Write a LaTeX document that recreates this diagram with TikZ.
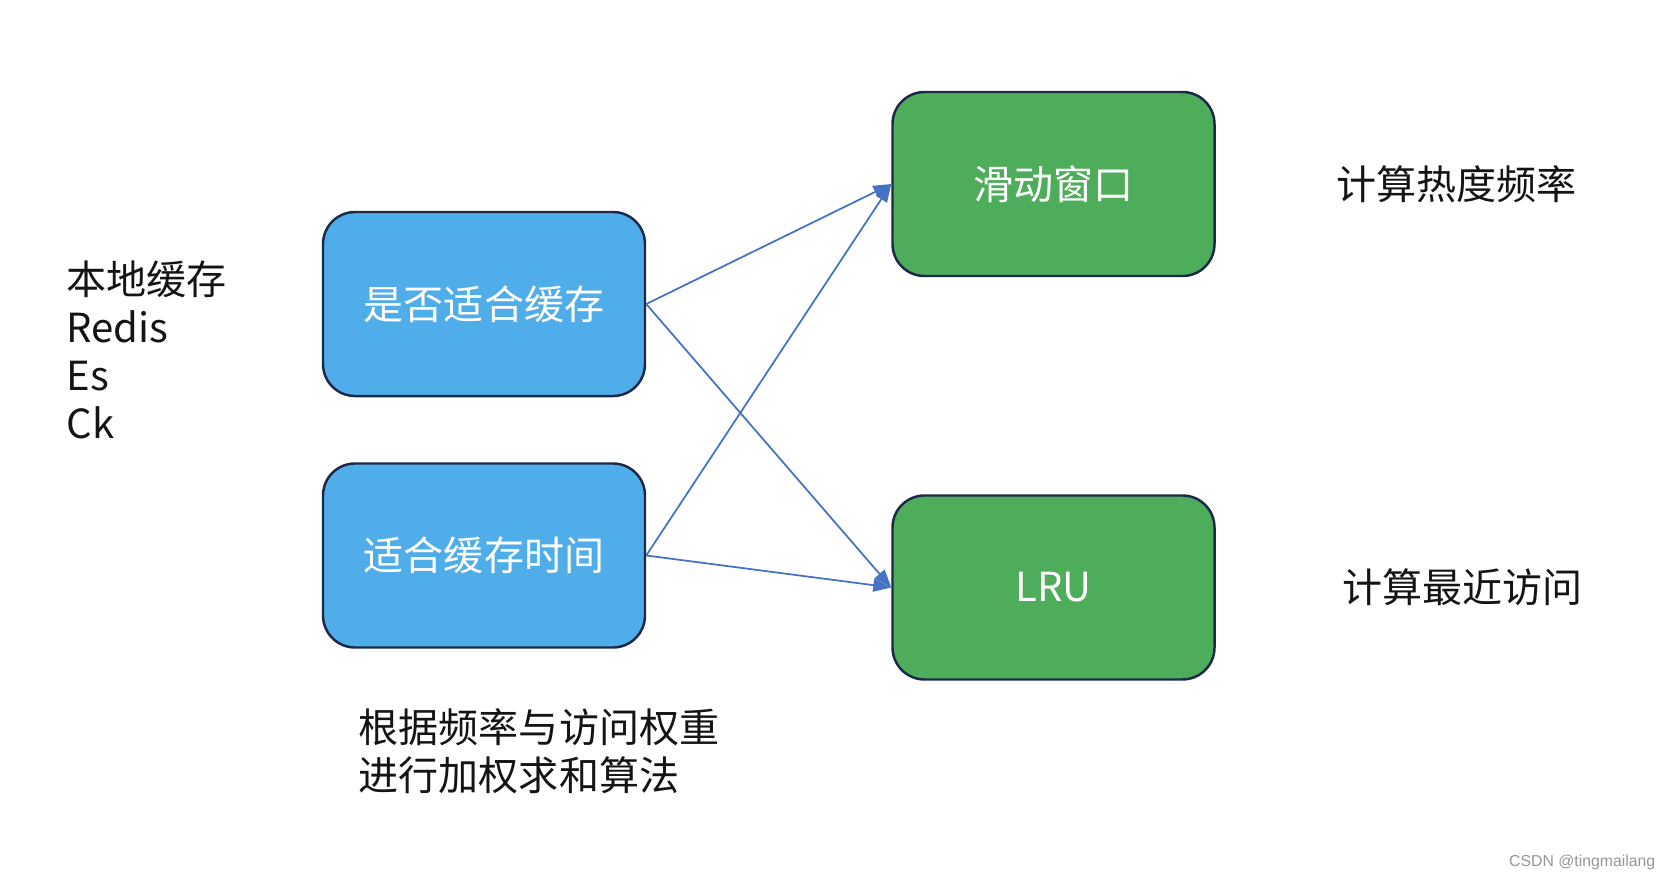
\documentclass[tikz,border=0pt]{standalone}
\usepackage{xcolor}
\usepackage{fontspec}
\setmainfont{Noto Sans CJK SC}
\newfontfamily\markfont{Liberation Sans}
\usepackage{tikz}
\usetikzlibrary{arrows.meta, positioning}
\definecolor{myblue}{RGB}{79,173,234}
\definecolor{mygreen}{RGB}{78,173,91}
\definecolor{myborder}{RGB}{28,40,72}
\definecolor{myarrow}{RGB}{68,114,196}
\definecolor{mytext}{RGB}{20,20,20}
\definecolor{mymark}{RGB}{150,150,150}
\tikzset{
  bluebox/.style={rectangle, draw=myborder, fill=myblue,
    minimum width=3.22cm, minimum height=1.84cm,
    text=white, rounded corners=0.32cm, line width=0.7pt},
  greenbox/.style={rectangle, draw=myborder, fill=mygreen,
    minimum width=3.22cm, minimum height=1.84cm,
    text=white, rounded corners=0.32cm, line width=0.7pt},
  note/.style={inner sep=0pt, align=left, text=mytext},
  arrow/.style={-{Triangle[length=0.18cm, width=0.13cm]}, line width=0.5pt, color=myarrow}
}

\begin{document}
\begin{tikzpicture}[font=\fontsize{11.4pt}{13.7pt}\selectfont]
  \useasboundingbox (0,0) rectangle (16.72,-8.82);
  \node[bluebox] (fit) at (4.84,-3.04) {是否适合缓存};
  \node[bluebox, below=0.65cm of fit] (ttl) {适合缓存时间};
  \node[greenbox] (window) at (10.535,-1.84) {滑动窗口};
  \node[greenbox, below=2.17cm of window] (lru) {LRU};

  \node[note, anchor=west] (store) at (0.66,-3.50) {本地缓存\\Redis\\Es\\Ck};
  \node[note, right=1.2cm of window] (hot) {计算热度频率};
  \node[note, right=1.26cm of lru] (recent) {计算最近访问};
  \node[note, anchor=west] (weight) at (3.58,-7.51) {根据频率与访问权重\\进行加权求和算法};
  \node[inner sep=0pt, anchor=east, text=mymark, font=\markfont\fontsize{4.5pt}{6pt}\selectfont] (mark) at (16.56,-8.62) {CSDN @tingmailang};

  \draw[arrow] (fit.east) -- (window.west);
  \draw[arrow] (fit.east) -- (lru.west);
  \draw[arrow] (ttl.east) -- (window.west);
  \draw[arrow] (ttl.east) -- (lru.west);
\end{tikzpicture}
\end{document}
